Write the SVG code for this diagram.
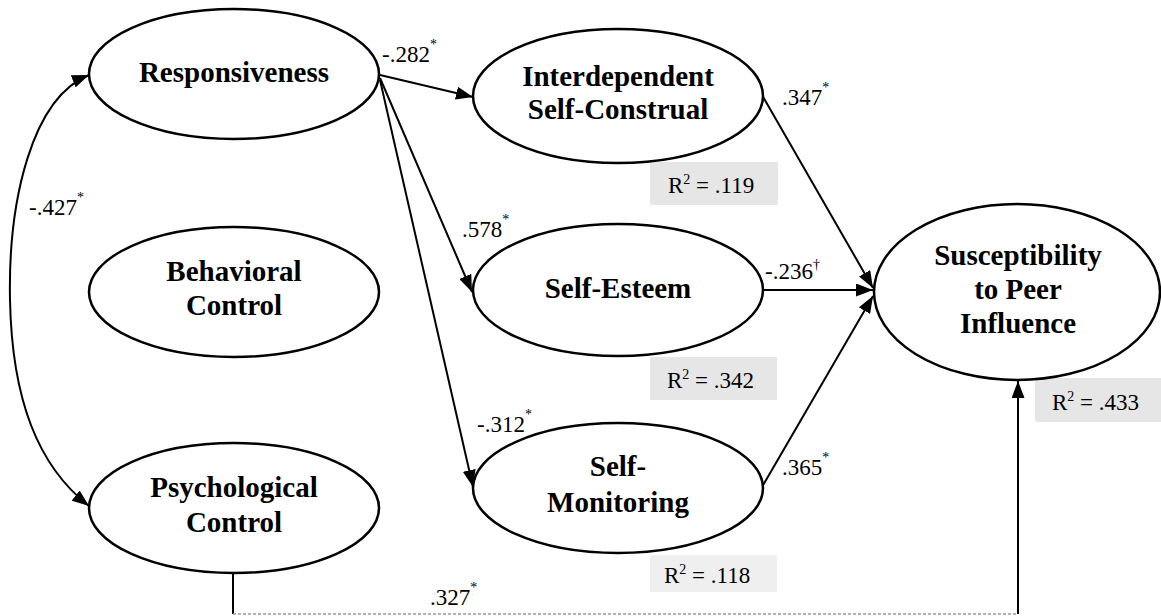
<svg xmlns="http://www.w3.org/2000/svg" width="1161" height="616" viewBox="0 0 1161 616">
<style>
.node ellipse{fill:#fff;stroke:#000;stroke-width:2.5}
.nt{font-weight:bold;font-size:29px;text-anchor:middle;fill:#000}
.lb{font-size:23px;fill:#000}
.sup{font-size:14px}
.r2box{fill:#e6e6e6}
.conn path{fill:none;stroke:#000;stroke-width:2}
</style>
<defs>
<marker id="ah" markerUnits="userSpaceOnUse" markerWidth="17" markerHeight="13" refX="17" refY="6.5" orient="auto-start-reverse">
<path d="M0,0 L17,6.5 L0,13 z" fill="#000"/>
</marker>
</defs>
<rect width="1161" height="616" fill="#fff"/>

<g id="r2-boxes">
<rect class="r2box" x="650" y="162" width="128" height="43"/>
<rect class="r2box" x="650" y="357" width="127" height="43"/>
<rect x="650" y="555" width="127" height="37" fill="#efefef"/>
<rect class="r2box" x="1035" y="378" width="126" height="44"/>
</g>

<g id="connectors" class="conn">
<path d="M380,75 L473,97" marker-end="url(#ah)"/>
<path d="M380,78 L472,292" marker-end="url(#ah)"/>
<path d="M380,80 L473,487" marker-end="url(#ah)"/>
<path d="M762,95 L873,288" marker-end="url(#ah)"/>
<path d="M762,290 L873,290" marker-end="url(#ah)"/>
<path d="M762,487 L873,296" marker-end="url(#ah)"/>
<path d="M89,75 C32,98 8,200 10,300 C12,400 38,466 89,506" marker-start="url(#ah)" marker-end="url(#ah)"/>
<path d="M233,573 L233,614"/>
<path d="M233,614 L1018,614" style="stroke:#999;stroke-width:1.5;stroke-dasharray:3 2"/>
<path d="M1018,614 L1018,381" marker-end="url(#ah)"/>
</g>

<g font-family="'Liberation Serif', 'DejaVu Serif', serif">
<g id="responsiveness" class="node">
<ellipse cx="234" cy="74" rx="145" ry="65"/>
<text class="nt" x="234" y="82">Responsiveness</text>
</g>
<g id="behavioral-control" class="node">
<ellipse cx="234" cy="292" rx="145" ry="65"/>
<text class="nt" x="234" y="281">Behavioral</text>
<text class="nt" x="234" y="315">Control</text>
</g>
<g id="psychological-control" class="node">
<ellipse cx="234" cy="508" rx="145" ry="65"/>
<text class="nt" x="234" y="497">Psychological</text>
<text class="nt" x="234" y="532">Control</text>
</g>
<g id="interdependent" class="node">
<ellipse cx="618" cy="96" rx="145" ry="67"/>
<text class="nt" x="618" y="86">Interdependent</text>
<text class="nt" x="618" y="119">Self-Construal</text>
</g>
<g id="self-esteem" class="node">
<ellipse cx="618" cy="290" rx="145" ry="66"/>
<text class="nt" x="618" y="298">Self-Esteem</text>
</g>
<g id="self-monitoring" class="node">
<ellipse cx="618" cy="488" rx="145" ry="65"/>
<text class="nt" x="618" y="476">Self-</text>
<text class="nt" x="618" y="512">Monitoring</text>
</g>
<g id="susceptibility" class="node">
<ellipse cx="1017" cy="292" rx="143" ry="88"/>
<text class="nt" x="1018" y="265">Susceptibility</text>
<text class="nt" x="1018" y="299">to Peer</text>
<text class="nt" x="1018" y="333">Influence</text>
</g>

<g id="labels">
<text class="lb" x="382" y="62">-.282<tspan class="sup" dy="-13">*</tspan></text>
<text class="lb" x="29" y="215">-.427<tspan class="sup" dy="-13">*</tspan></text>
<text class="lb" x="782" y="105">.347<tspan class="sup" dy="-13">*</tspan></text>
<text class="lb" x="462" y="237">.578<tspan class="sup" dy="-13">*</tspan></text>
<text class="lb" x="765" y="279">-.236<tspan class="sup" dy="-10">†</tspan></text>
<text class="lb" x="477" y="432">-.312<tspan class="sup" dy="-13">*</tspan></text>
<text class="lb" x="782" y="475">.365<tspan class="sup" dy="-13">*</tspan></text>
<text class="lb" x="430" y="605">.327<tspan class="sup" dy="-13">*</tspan></text>
<text class="lb" x="668" y="193">R<tspan class="sup" dy="-9">2</tspan><tspan dy="9"> = .119</tspan></text>
<text class="lb" x="667" y="388">R<tspan class="sup" dy="-9">2</tspan><tspan dy="9"> = .342</tspan></text>
<text class="lb" x="664" y="583">R<tspan class="sup" dy="-9">2</tspan><tspan dy="9"> = .118</tspan></text>
<text class="lb" x="1052" y="410">R<tspan class="sup" dy="-9">2</tspan><tspan dy="9"> = .433</tspan></text>
</g>
</g>
</svg>
